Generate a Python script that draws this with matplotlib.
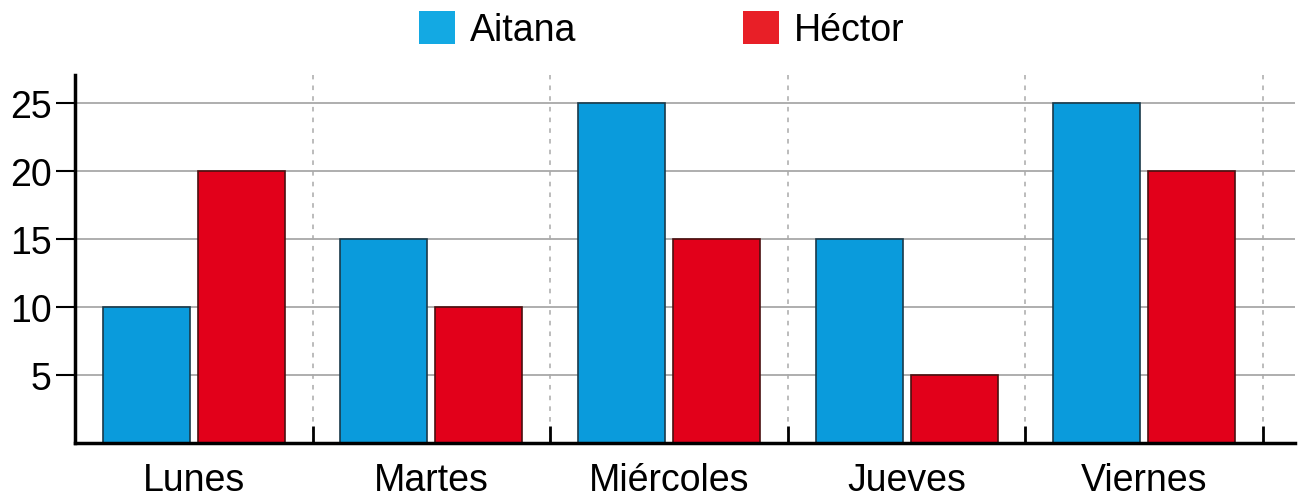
import matplotlib
matplotlib.use("Agg")
import matplotlib.pyplot as plt
from matplotlib.patches import Patch
import numpy as np

plt.rcParams['font.family'] = ['Liberation Sans', 'DejaVu Sans']

days = ["Lunes", "Martes", "Miércoles", "Jueves", "Viernes"]
aitana = [10, 15, 25, 15, 25]
hector = [20, 10, 15, 5, 20]
yticks = [5, 10, 15, 20, 25]
series_names = ["Aitana", "Héctor"]

blue = "#0a9bdc"
red = "#e2001a"
blue_leg = "#13a9e3"
red_leg = "#e81f27"

fig = plt.figure(figsize=(12.99, 5.02), dpi=100)
ax = fig.add_axes([75/1299, 1-444/502, (1295-75)/1299, (444-76)/502])

x = np.arange(len(days))
w = 0.366
off = 0.2
ax.bar(x - off, aitana, w, color=blue, edgecolor="#1a3a4a", linewidth=1.2, zorder=3)
ax.bar(x + off, hector, w, color=red, edgecolor="#4a1010", linewidth=1.2, zorder=3)

ax.set_xlim(-0.5, 4.635)
ax.set_ylim(0, 27.06)

for yv in yticks:
    ax.axhline(yv, color="#999999", linewidth=1.1, zorder=1)
for b in np.arange(0.5, 5.0, 1.0):
    ax.axvline(b, color="#aaaaaa", linewidth=1.1, linestyle=(0, (3, 4)), zorder=1)

ax.set_yticks(yticks)
ax.set_yticklabels([str(v) for v in yticks], fontsize=27)
ax.tick_params(axis='y', direction='out', length=14, width=1.5, pad=3)

ax.set_xticks(np.arange(0.5, 5.0, 1.0), minor=False)
ax.set_xticklabels([])
ax.tick_params(axis='x', direction='in', length=12, width=2, which='major')
ax.set_xticks(x, minor=True)
ax.set_xticklabels(days, minor=True, fontsize=27)
ax.tick_params(axis='x', which='minor', length=0, pad=14)

for s in ["top", "right"]:
    ax.spines[s].set_visible(False)
for s in ["left", "bottom"]:
    ax.spines[s].set_linewidth(2.5)
    ax.spines[s].set_zorder(4)

handles = [Patch(facecolor=blue_leg, edgecolor='none'), Patch(facecolor=red_leg, edgecolor='none')]
fig.legend(handles, series_names, loc='upper center', bbox_to_anchor=(0.5095, 1.043), ncol=2,
           frameon=False, fontsize=27, handlelength=0.95, handleheight=0.95,
           handletextpad=0.4, columnspacing=4.45)

fig.savefig("out.png", dpi=100)
